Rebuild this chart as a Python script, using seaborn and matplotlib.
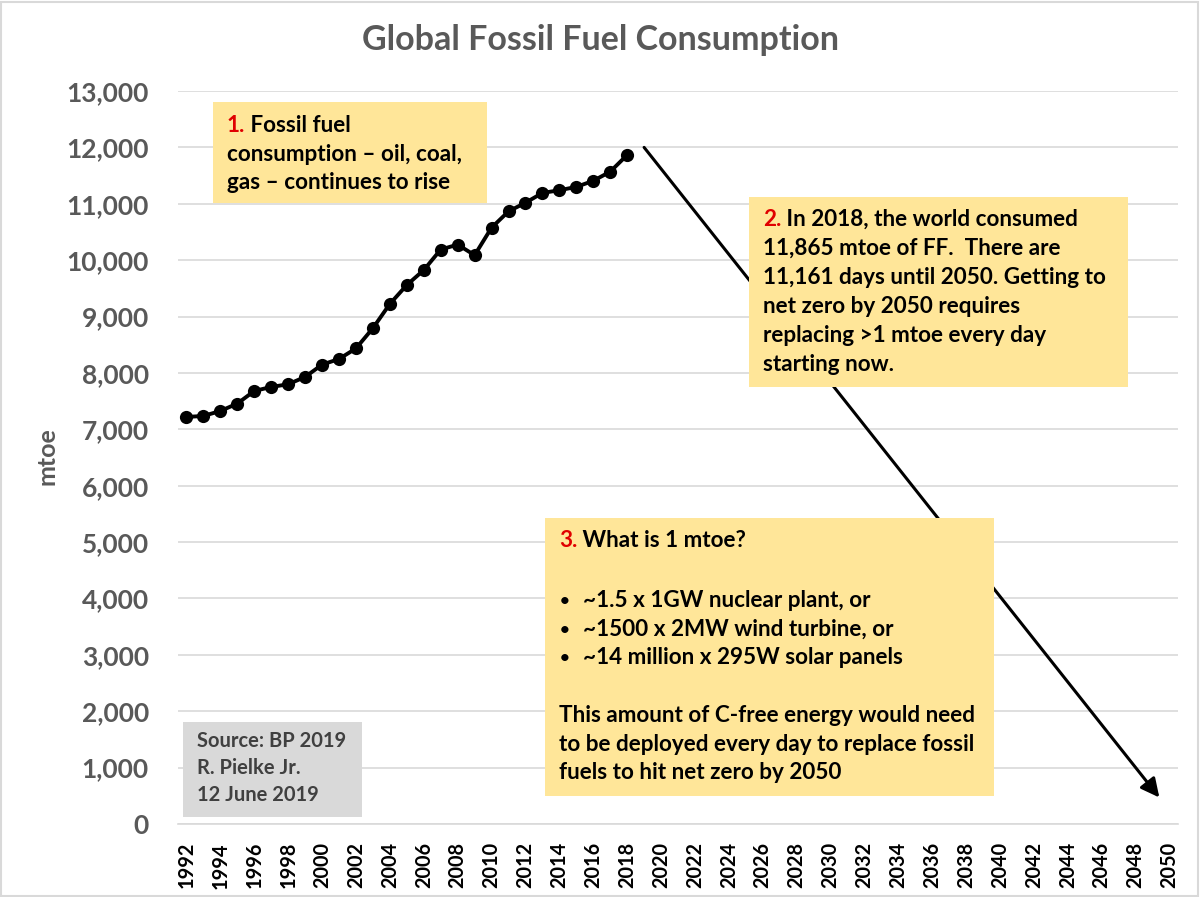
import matplotlib
matplotlib.use('Agg')
import matplotlib.pyplot as plt
from matplotlib.patches import Rectangle
import seaborn as sns
import pandas as pd

# data (mtoe)
years = list(range(1992, 2019))
consumption = [7219, 7237, 7325, 7456, 7680, 7751, 7799, 7929, 8147, 8247,
               8435, 8794, 9224, 9559, 9824, 10188, 10276, 10088, 10576,
               10865, 11018, 11192, 11240, 11299, 11407, 11569, 11865]
tick_years = list(range(1992, 2051, 2))
y_ticks = list(range(0, 13001, 1000))
arrow_start = (2019, 12000)
arrow_end = (2049.4, 470)

title = 'Global Fossil Fuel Consumption'
box1_lines = [('1.', ' Fossil fuel'), (None, 'consumption – oil, coal,'),
              (None, 'gas – continues to rise')]
box2_lines = [('2.', ' In 2018, the world consumed'),
              (None, '11,865 mtoe of FF.  There are'),
              (None, '11,161 days until 2050. Getting to'),
              (None, 'net zero by 2050 requires'),
              (None, 'replacing >1 mtoe every day'),
              (None, 'starting now.')]
box3_head = ('3.', ' What is 1 mtoe?')
box3_bullets = ['~1.5 x 1GW nuclear plant, or',
                '~1500 x 2MW wind turbine, or',
                '~14 million x 295W solar panels']
box3_tail = ['This amount of C-free energy would need',
             'to be deployed every day to replace fossil',
             'fuels to hit net zero by 2050']
source_lines = ['Source: BP 2019', 'R. Pielke Jr.', '12 June 2019']

df = pd.DataFrame({'year': years, 'mtoe': consumption})

sns.set_theme(style='white')
plt.rcParams['font.family'] = ['Lato', 'DejaVu Sans']
plt.rcParams['font.weight'] = 'bold'

W, H = 1200, 897
fig = plt.figure(figsize=(W / 100, H / 100), dpi=100)
ax = fig.add_axes([178 / W, 1 - 824 / H, 1000 / W, (824 - 91) / H])

sns.lineplot(data=df, x='year', y='mtoe', ax=ax, color='black', lw=2.8,
             marker='o', markersize=9.5, markeredgewidth=0, zorder=3)

ax.annotate('', xy=arrow_end, xytext=arrow_start,
            arrowprops=dict(arrowstyle='-|>', color='black', lw=2.2,
                            mutation_scale=28, shrinkA=0, shrinkB=0))

ax.set_xlim(1991.5, 2050.5)
ax.set_ylim(0, 13000)
ax.set_xticks(tick_years)
ax.set_xticklabels([str(y) for y in tick_years], rotation=90,
                   fontsize=14.3, fontweight='bold', color='black')
ax.set_yticks(y_ticks)
ax.set_yticklabels([f'{v:,}' for v in y_ticks], fontsize=19,
                   fontweight='bold', color='#595959')
ax.tick_params(axis='both', length=0)
ax.tick_params(axis='y', pad=21)
ax.tick_params(axis='x', pad=13)
ax.yaxis.grid(True, color='#D9D9D9', lw=1.2)
ax.set_axisbelow(True)
for side in ['top', 'right', 'left']:
    ax.spines[side].set_visible(False)
ax.spines['bottom'].set_color('#D9D9D9')
ax.spines['bottom'].set_linewidth(1.2)
ax.set_xlabel('')
ax.set_ylabel('')

fig.text(47 / W, 1 - 456 / H, 'mtoe', rotation=90, ha='center', va='center',
         fontsize=18, fontweight='bold', color='#595959')
fig.text(600 / W, 1 - 50 / H, title, ha='center', va='baseline',
         fontsize=24.5, fontweight='bold', color='#595959')

# chart outer border
fig.patches.append(Rectangle((1 / W, 1 / H), 1 - 3 / W, 1 - 3 / H,
                             transform=fig.transFigure, fill=False,
                             edgecolor='#D9D9D9', lw=1.5))


def add_box(x0, y0, x1, y1, color):
    fig.patches.append(Rectangle((x0 / W, 1 - y1 / H), (x1 - x0) / W,
                                 (y1 - y0) / H, transform=fig.transFigure,
                                 facecolor=color, edgecolor='none', zorder=1))


renderer = fig.canvas.get_renderer()
FS = 16.2


def put_line(x, y, prefix, rest, color='black', fs=FS):
    if prefix:
        t = fig.text(x / W, 1 - y / H, prefix, color='#E00000', fontsize=fs,
                     fontweight='bold', va='baseline', zorder=5)
        bb = t.get_window_extent(renderer=renderer)
        x = bb.x1
    fig.text(x / W, 1 - y / H, rest, color=color, fontsize=fs,
             fontweight='bold', va='baseline', zorder=5)


yellow = '#FFE699'
add_box(213, 102, 487, 203, yellow)
for i, (p, r) in enumerate(box1_lines):
    put_line(227, 132 + i * 28.7, p, r)

add_box(749, 197, 1128, 387, yellow)
for i, (p, r) in enumerate(box2_lines):
    put_line(763, 226 + i * 29, p, r)

add_box(545, 518, 994, 796, yellow)
put_line(559, 547, *box3_head)
for i, s in enumerate(box3_bullets):
    y = 607 + i * 28.7
    put_line(560, y - 1, None, '•', fs=12)
    put_line(583, y, None, s)
for i, s in enumerate(box3_tail):
    put_line(559, 722 + i * 28.7, None, s)

add_box(183, 722, 362, 817, '#D9D9D9')
for i, s in enumerate(source_lines):
    put_line(197, 747 + i * 27, None, s, color='#404040', fs=14.5)

fig.savefig('out.png', dpi=100)
